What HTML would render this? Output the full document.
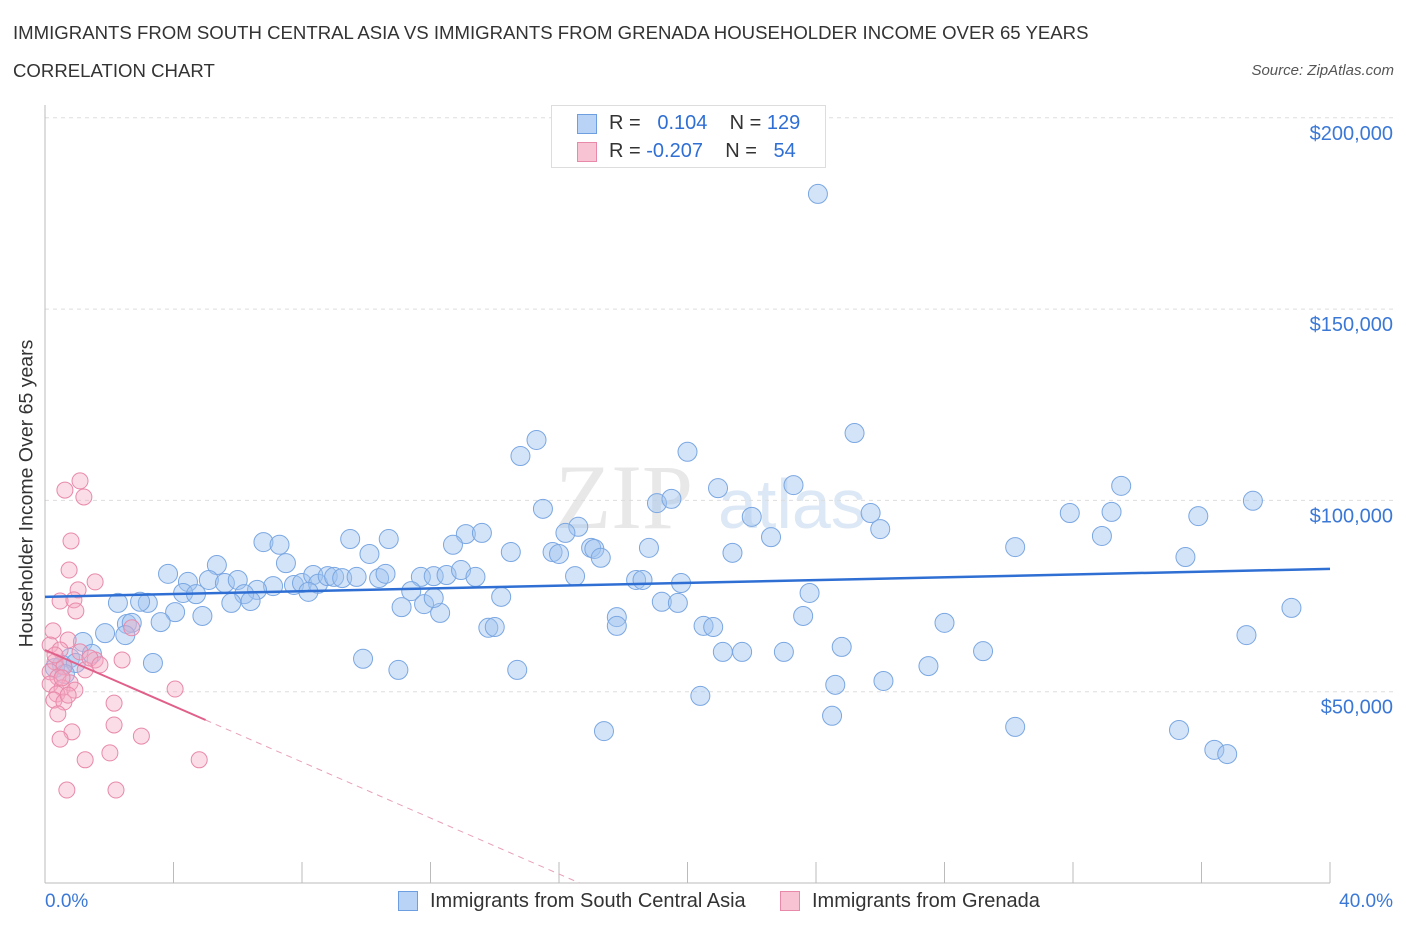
<!DOCTYPE html>
<html><head><meta charset="utf-8">
<style>
body{margin:0;background:#fff;font-family:"Liberation Sans",sans-serif;}
#wrap{position:relative;width:1406px;height:930px;overflow:hidden;}
.t{position:absolute;white-space:nowrap;}
</style></head>
<body>
<div id="wrap">
<div class="t" style="left:13px;top:22px;font-size:18.6px;color:#333;">IMMIGRANTS FROM SOUTH CENTRAL ASIA VS IMMIGRANTS FROM GRENADA HOUSEHOLDER INCOME OVER 65 YEARS</div>
<div class="t" style="left:13px;top:60px;font-size:18.6px;color:#333;">CORRELATION CHART</div>
<div class="t" style="right:12px;top:62px;font-size:15px;color:#555;font-style:italic;">Source: ZipAtlas.com</div>
<svg id="svg" width="1406" height="930" style="position:absolute;left:0;top:0"></svg>
</div>
<script>
const blueX=[24.06,25.2,15.3,14.8,20.0,23.3,20.95,33.5,37.6,31.9,33.2,35.9,25.7,15.5,19.05,19.5,22.0,26.0,32.9,16.6,16.2,13.1,13.6,12.7,9.5,10.7,6.8,7.3,30.2,22.6,35.5,21.4,18.8,15.8,16.0,17.0,17.1,17.3,14.5,10.1,5.35,7.5,3.83,4.45,5.1,5.6,6.0,7.1,6.6,7.75,8.0,8.35,8.5,8.8,9.0,9.25,9.7,10.4,10.6,11.7,12.1,12.5,12.95,13.4,16.5,18.4,18.6,19.8,11.4,8.2,6.2,6.4,5.8,4.3,4.7,3.2,2.27,2.96,11.1,11.8,12.3,12.1,14.2,19.2,19.7,23.8,23.6,17.8,17.8,4.05,4.9,3.6,2.55,2.7,1.87,2.5,13.8,14.0,20.5,20.8,28.0,38.8,37.4,24.8,21.1,21.7,23.0,29.2,1.18,1.46,0.78,0.53,0.96,0.31,0.62,3.36,9.9,11.0,14.7,27.5,26.1,24.6,20.4,24.5,30.2,17.4,35.3,36.4,36.8];
const blueY=[180100,117600,115800,111600,112700,104000,103200,103800,99900,96700,97000,95900,96700,97800,99300,100400,95700,92500,90700,93100,91500,91200,91500,88400,89900,89900,89100,88400,87800,90400,85200,86300,87600,86500,86000,87600,87300,85000,86500,86000,83100,83600,80800,78700,79200,78400,79200,77600,76600,77900,78400,80500,78200,80200,80000,79700,80000,79700,80800,80000,80200,80500,81800,80000,80200,79200,79200,78400,76300,76100,75500,73700,73200,75800,75500,73200,73200,73500,72100,72900,70600,74500,74800,73500,73200,75800,69800,69500,67200,70800,69800,68200,67700,68000,65300,64800,66700,66900,67200,66900,68000,71900,64800,61700,60400,60400,60400,60600,63000,59900,58800,57000,57500,56200,54600,57500,58600,55700,55700,56700,52800,51800,48900,43700,40800,39700,40000,34800,33700];
const pinkX=[1.09,0.62,1.21,0.81,0.75,1.56,1.03,0.47,0.9,0.96,2.7,0.25,0.72,0.16,0.47,1.09,1.56,2.4,0.31,0.59,0.16,0.4,0.78,0.16,0.53,0.37,0.93,4.05,0.28,0.59,2.15,0.4,2.15,0.84,0.47,3.0,2.02,1.25,4.8,0.68,2.21,1.25,1.4,0.31,0.72,1.71,0.53];
const pinkY=[105100,102700,100900,89400,81800,78700,76600,73700,74000,71100,66700,65900,63500,62200,60900,60400,58300,58300,57800,56500,55200,53800,52300,52000,51000,49400,50400,50700,47800,47300,47000,44200,41300,39500,37600,38400,34000,32200,32200,24300,24300,55700,58800,59600,49100,57000,53600];
const blueTrend=[74800,82100];
const pinkTrend=[60900,42600];
const yTicks=[50000,100000,150000,200000];
const yTickLabels=["$50,000","$100,000","$150,000","$200,000"];
const xTicks=[0,4,8,12,16,20,24,28,32,36,40];

const X=v=>45+v/40*1285;
const Y=v=>883-v/50000*191.3;
const svg=document.getElementById('svg');
const NS='http://www.w3.org/2000/svg';
function mk(tag,attrs,parent){const e=document.createElementNS(NS,tag);for(const k in attrs)e.setAttribute(k,attrs[k]);(parent||svg).appendChild(e);return e;}

const wm=mk('text',{x:555,y:528,'font-size':92,'font-family':'Liberation Serif,serif',fill:'#e8e8e8'});
wm.textContent='ZIP';


const wm2=mk('text',{x:718,y:528,'font-size':70,'font-family':'Liberation Sans,sans-serif',fill:'#dce8f5'});
wm2.textContent='atlas';



yTicks.forEach((v,i)=>{
  const g=mk('line',{x1:45,x2:1395,y1:Y(v),y2:Y(v),stroke:'#ddd','stroke-dasharray':'4,4'});
  
  
  const t=mk('text',{x:1393,y:Y(v)+22,'text-anchor':'end','font-size':20,fill:'#3b78d6','font-family':'Liberation Sans,sans-serif'});
  t.textContent=yTickLabels[i];
  
  
});
const ax=mk('line',{x1:45,x2:45,y1:105,y2:883,stroke:'#bbb'});


const bx=mk('line',{x1:45,x2:1330,y1:883,y2:883,stroke:'#bbb'});


xTicks.forEach(v=>{
  const l=mk('line',{x1:X(v),x2:X(v),y1:862,y2:883,stroke:'#bbb'});
  
  
});

blueX.forEach((x,i)=>{
  const c=mk('circle',{cx:X(x),cy:Y(blueY[i]),r:9.5,fill:'rgba(160,196,240,0.45)',stroke:'#7aa7e2','stroke-width':1});
  
  
});
pinkX.forEach((x,i)=>{
  const c=mk('circle',{cx:X(x),cy:Y(pinkY[i]),r:8,fill:'rgba(244,170,195,0.4)',stroke:'#e889aa','stroke-width':1});
  
  
});
const bl=mk('line',{x1:X(0),y1:Y(blueTrend[0]),x2:X(40),y2:Y(blueTrend[1]),stroke:'#2f6fd4','stroke-width':2.5});


const slope=(pinkTrend[1]-pinkTrend[0])/5;
const pl=mk('line',{x1:X(0),y1:Y(pinkTrend[0]),x2:X(5),y2:Y(pinkTrend[1]),stroke:'#e0608a','stroke-width':2});


const zx=-pinkTrend[0]/slope;
const pd=mk('line',{x1:X(5),y1:Y(pinkTrend[1]),x2:X(zx),y2:Y(0),stroke:'#e8a0b8','stroke-width':1,'stroke-dasharray':'6,5'});


</script>
<div class="t" style="left:551px;top:105px;width:273px;height:61px;border:1px solid #ddd;background:#fff;">
 <div class="t" style="left:25px;top:8px;width:20px;height:20px;background:#b8d3f5;border:1px solid #6c9ee0;box-sizing:border-box;"></div>
 <div class="t" style="left:57px;top:6px;font-size:20px;color:#333;">R = &nbsp;<span style="color:#2f6fd4">&nbsp;0.104</span>&nbsp;&nbsp;&nbsp; N = <span style="color:#2f6fd4">129</span></div>
 <div class="t" style="left:25px;top:36px;width:20px;height:20px;background:#f8c4d4;border:1px solid #e889aa;box-sizing:border-box;"></div>
 <div class="t" style="left:57px;top:34px;font-size:20px;color:#333;">R = <span style="color:#2f6fd4">-0.207</span>&nbsp;&nbsp;&nbsp; N = &nbsp;&nbsp;<span style="color:#2f6fd4">54</span></div>
</div>
<div class="t" style="left:45px;top:891px;font-size:19px;color:#3b78d6;">0.0%</div>
<div class="t" style="right:13px;top:891px;font-size:19px;color:#3b78d6;">40.0%</div>
<div class="t" style="left:398px;top:891px;width:20px;height:20px;background:#b8d3f5;border:1px solid #6c9ee0;box-sizing:border-box;"></div>
<div class="t" style="left:430px;top:890px;font-size:20px;color:#333;">Immigrants from South Central Asia</div>
<div class="t" style="left:780px;top:891px;width:20px;height:20px;background:#f8c4d4;border:1px solid #e889aa;box-sizing:border-box;"></div>
<div class="t" style="left:812px;top:890px;font-size:20px;color:#333;">Immigrants from Grenada</div>
<div class="t" style="left:-128px;top:482px;transform:rotate(-90deg);font-size:19.5px;color:#333;width:310px;text-align:center;">Householder Income Over 65 years</div>
</body></html>
